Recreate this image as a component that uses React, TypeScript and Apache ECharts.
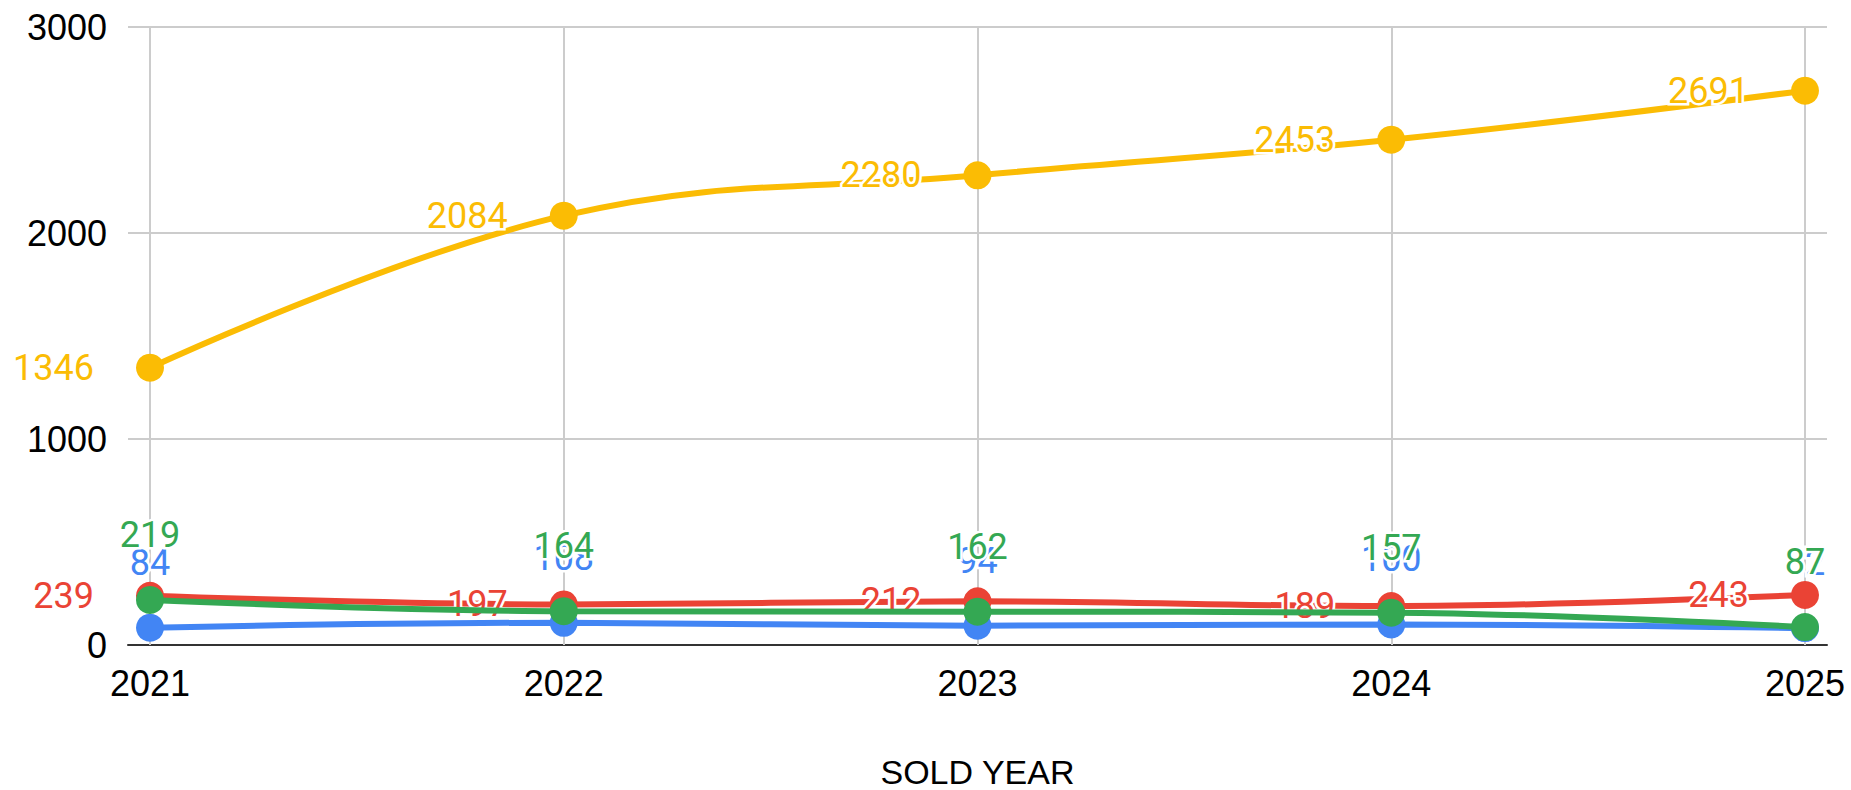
import React, { useEffect, useRef } from "react";
import * as echarts from "echarts";

const years = ["2021", "2022", "2023", "2024", "2025"];
const blueValues = [84, 108, 94, 100, 82];
const redValues = [239, 197, 212, 189, 243];
const yellowValues = [1346, 2084, 2280, 2453, 2691];
const greenValues = [219, 164, 162, 157, 87];
const yTicks = [0, 1000, 2000, 3000];

const BLUE = "#4285F4";
const RED = "#EA4335";
const YELLOW = "#FBBC04";
const GREEN = "#34A853";

const labelFont = "Roboto, 'Noto Sans', sans-serif";
const axisFont = "'Liberation Sans', Arial, sans-serif";

function makeSeries(name: string, data: number[], color: string, pos: "left" | "top", z: number) {
  return {
    name,
    type: "line",
    xAxisIndex: 1,
    yAxisIndex: 1,
    data,
    smooth: 0.4,
    symbol: "circle",
    symbolSize: 28,
    z,
    lineStyle: { color, width: 6 },
    itemStyle: { color },
    label: {
      show: true,
      position: pos,
      distance: pos === "left" ? 42 : 33,
      color,
      fontSize: 36,
      fontFamily: labelFont,
      textBorderColor: "#ffffff",
      textBorderWidth: 5,
    },
  };
}

export default function App() {
  const ref = useRef<HTMLDivElement>(null);
  useEffect(() => {
    if (!ref.current) return;
    document.body.style.margin = "0";
    const chart = echarts.init(ref.current, null, { renderer: "svg" });
    const yMin = yTicks[0];
    const yMax = yTicks[yTicks.length - 1];
    const yInterval = yTicks[1] - yTicks[0];
    chart.setOption({
      animation: false,
      backgroundColor: "#ffffff",
      grid: [
        { left: 128, right: 24, top: 27, bottom: 145, outerBoundsMode: "none", containLabel: false },
        { left: 150, right: 46, top: 27, bottom: 145, outerBoundsMode: "none", containLabel: false },
      ],
      xAxis: [
        {
          gridIndex: 0,
          type: "value",
          min: 0,
          max: 1,
          axisLine: { show: true, lineStyle: { color: "#333333", width: 2 } },
          axisTick: { show: false },
          axisLabel: { show: false },
          splitLine: { show: false },
        },
        {
          gridIndex: 1,
          type: "category",
          data: years,
          boundaryGap: false,
          axisLine: { show: false },
          axisTick: { show: false },
          axisLabel: {
            color: "#000000",
            fontSize: 36,
            fontFamily: axisFont,
            margin: 20,
          },
          splitLine: { show: true, lineStyle: { color: "#cccccc", width: 2 } },
          name: "SOLD YEAR",
          nameLocation: "middle",
          nameGap: 110,
          nameTextStyle: {
            color: "#000000",
            fontSize: 34,
            fontFamily: axisFont,
          },
          z: 1,
        },
      ],
      yAxis: [
        {
          gridIndex: 0,
          type: "value",
          min: yMin,
          max: yMax,
          interval: yInterval,
          axisLine: { show: false },
          axisTick: { show: false },
          axisLabel: {
            color: "#000000",
            fontSize: 36,
            fontFamily: axisFont,
            margin: 21,
            formatter: (v: number) => String(v),
          },
          splitLine: { show: true, lineStyle: { color: "#cccccc", width: 2 } },
        },
        {
          gridIndex: 1,
          type: "value",
          min: yMin,
          max: yMax,
          interval: yInterval,
          show: false,
          splitLine: { show: false },
        },
      ],
      series: [
        makeSeries("Blue", blueValues, BLUE, "top", 3),
        makeSeries("Red", redValues, RED, "left", 4),
        makeSeries("Yellow", yellowValues, YELLOW, "left", 5),
        makeSeries("Green", greenValues, GREEN, "top", 6),
      ],
    });
    return () => chart.dispose();
  }, []);
  return <div ref={ref} style={{ width: 1851, height: 790 }} />;
}
